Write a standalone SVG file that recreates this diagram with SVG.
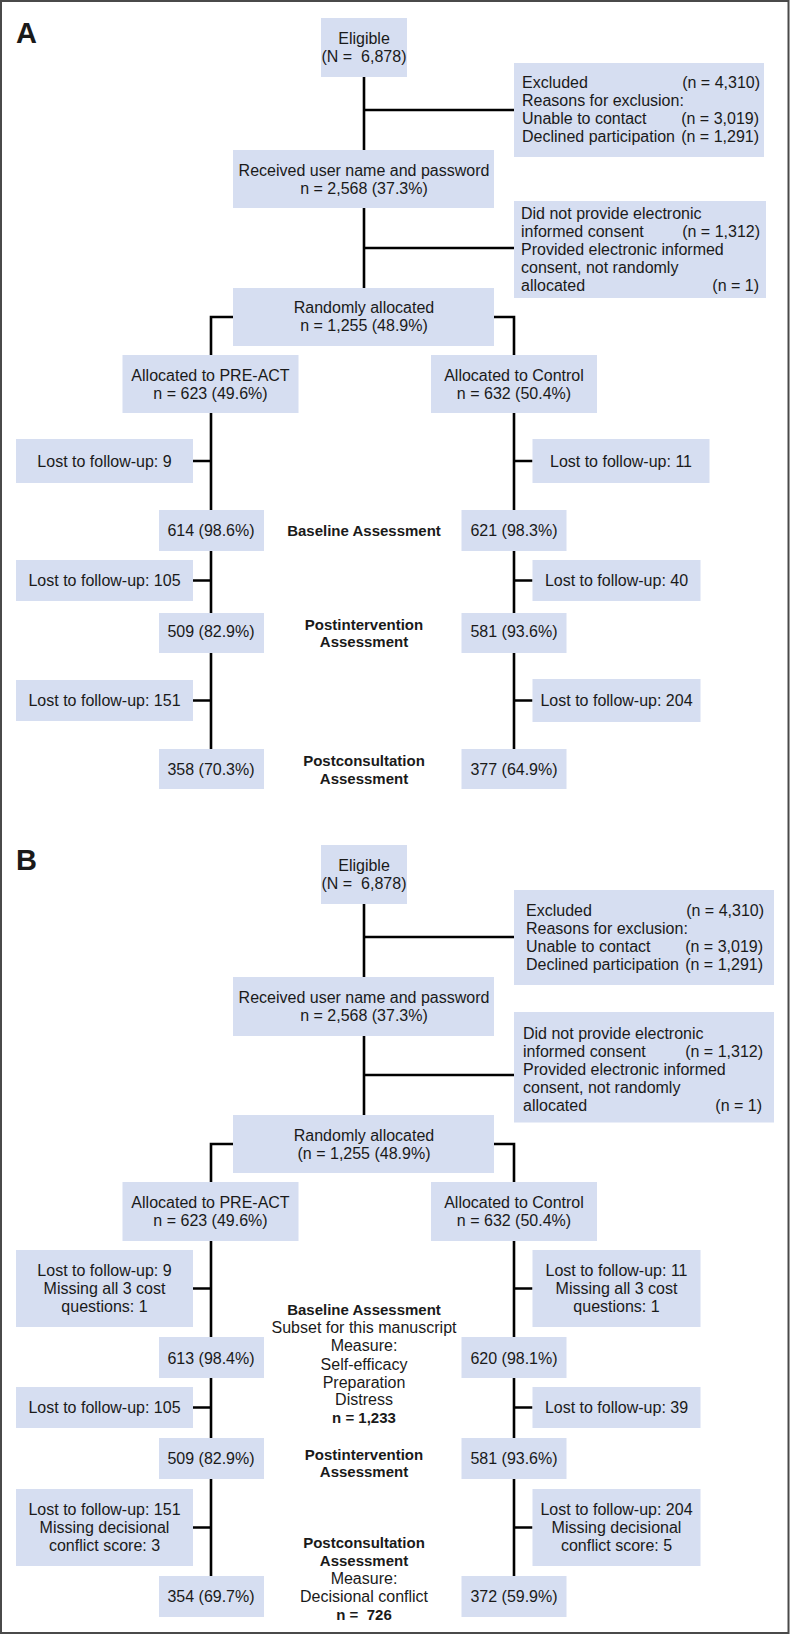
<svg xmlns="http://www.w3.org/2000/svg" width="790" height="1635" viewBox="0 0 790 1635">
<style>
.b{fill:#d6def1}
text{font-family:"Liberation Sans",Arial,sans-serif;font-size:16px;fill:#1a1a1a}
.c{text-anchor:middle}
.e{text-anchor:end}
.h{font-weight:bold;font-size:15px;text-anchor:middle}
.p{font-weight:bold;font-size:29px}
.ln{stroke:#000;stroke-width:2.6;fill:none}
</style>
<rect x="0" y="0" width="790" height="1635" fill="#fff"/>
<rect x="1" y="1" width="787.5" height="1632" fill="none" stroke="#4a4a4a" stroke-width="2"/>
<text class="p" x="16" y="43">A</text>
<text class="p" x="16" y="870">B</text>
<g id="connectors">
<path class="ln" d="M364,77V150M364,208V288M364,110H514M364,248H514M233,317H211V355M494,317H514V355"/>
<path class="ln" d="M211,413V510M211,551V613M211,653V749M514,413V510M514,551V613M514,653V749"/>
<path class="ln" d="M193,461H211M514,461H532.5M193,580.5H211M514,580.5H532.5M193,700.5H211M514,700.5H532.5"/>
<path class="ln" d="M364,904V977M364,1036V1115M364,937H514M364,1075H514M233,1144H211V1182M494,1144H514V1182"/>
<path class="ln" d="M211,1241V1337M211,1378V1438M211,1479V1576M514,1241V1337M514,1378V1438M514,1479V1576"/>
<path class="ln" d="M193,1288.5H211M514,1288.5H532.5M193,1407.5H211M514,1407.5H532.5M193,1527.5H211M514,1527.5H532.5"/>
</g>
<g id="a-eligible"><rect class="b" x="321" y="18" width="86" height="59"/><text class="c" x="364" y="44">Eligible</text><text class="c" x="364" y="62" xml:space="preserve">(N =  6,878)</text></g>
<g id="a-excluded"><rect class="b" x="514" y="63" width="250" height="94"/>
<text x="522" y="88">Excluded</text><text class="e" x="760" y="88">(n = 4,310)</text>
<text x="522" y="106">Reasons for exclusion:</text>
<text x="522" y="124">Unable to contact</text><text class="e" x="759" y="124">(n = 3,019)</text>
<text x="522" y="142">Declined participation</text><text class="e" x="759" y="142">(n = 1,291)</text></g>
<g id="a-received"><rect class="b" x="233" y="150" width="261" height="58"/><text class="c" x="364" y="175.5">Received user name and password</text><text class="c" x="364" y="194">n = 2,568 (37.3%)</text></g>
<g id="a-noconsent"><rect class="b" x="514" y="201" width="252" height="97"/>
<text x="521" y="219">Did not provide electronic</text>
<text x="521" y="237">informed consent</text><text class="e" x="760" y="237">(n = 1,312)</text>
<text x="521" y="255">Provided electronic informed</text>
<text x="521" y="273">consent, not randomly</text>
<text x="521" y="291">allocated</text><text class="e" x="759" y="291">(n = 1)</text></g>
<g id="a-random"><rect class="b" x="233" y="288" width="261" height="58"/><text class="c" x="364" y="313">Randomly allocated</text><text class="c" x="364" y="331">n = 1,255 (48.9%)</text></g>
<g id="a-preact"><rect class="b" x="122.5" y="355" width="176" height="58"/><text class="c" x="210.5" y="381">Allocated to PRE-ACT</text><text class="c" x="210.5" y="399">n = 623 (49.6%)</text></g>
<g id="a-control"><rect class="b" x="431" y="355" width="166" height="58"/><text class="c" x="514" y="381">Allocated to Control</text><text class="c" x="514" y="399">n = 632 (50.4%)</text></g>
<g id="a-lost9"><rect class="b" x="16" y="439" width="177" height="44"/><text class="c" x="104.5" y="467">Lost to follow-up: 9</text></g>
<g id="a-lost11"><rect class="b" x="532.5" y="439" width="177" height="44"/><text class="c" x="621" y="467">Lost to follow-up: 11</text></g>
<g id="a-614"><rect class="b" x="159" y="510" width="105" height="41"/><text class="c" x="211" y="536">614 (98.6%)</text></g>
<g id="a-621"><rect class="b" x="461.5" y="510" width="105" height="41"/><text class="c" x="514" y="536">621 (98.3%)</text></g>
<text class="h" x="364" y="535.5">Baseline Assessment</text>
<g id="a-lost105"><rect class="b" x="16" y="560" width="177" height="41"/><text class="c" x="104.5" y="586">Lost to follow-up: 105</text></g>
<g id="a-lost40"><rect class="b" x="532.5" y="560" width="168" height="41"/><text class="c" x="616.5" y="586">Lost to follow-up: 40</text></g>
<g id="a-509"><rect class="b" x="159" y="613" width="105" height="40"/><text class="c" x="211" y="636.5">509 (82.9%)</text></g>
<g id="a-581"><rect class="b" x="461.5" y="613" width="105" height="40"/><text class="c" x="514" y="636.5">581 (93.6%)</text></g>
<text class="h" x="364" y="629.5">Postintervention</text><text class="h" x="364" y="647">Assessment</text>
<g id="a-lost151"><rect class="b" x="16" y="680" width="177" height="41"/><text class="c" x="104.5" y="706">Lost to follow-up: 151</text></g>
<g id="a-lost204"><rect class="b" x="532.5" y="679" width="168" height="43"/><text class="c" x="616.5" y="706">Lost to follow-up: 204</text></g>
<g id="a-358"><rect class="b" x="159" y="749" width="105" height="40"/><text class="c" x="211" y="774.5">358 (70.3%)</text></g>
<g id="a-377"><rect class="b" x="461.5" y="749" width="105" height="40"/><text class="c" x="514" y="774.5">377 (64.9%)</text></g>
<text class="h" x="364" y="765.5">Postconsultation</text><text class="h" x="364" y="783.5">Assessment</text>

<g id="b-eligible"><rect class="b" x="321" y="845" width="86" height="59"/><text class="c" x="364" y="870.5">Eligible</text><text class="c" x="364" y="889" xml:space="preserve">(N =  6,878)</text></g>
<g id="b-excluded"><rect class="b" x="514" y="890" width="260" height="95"/>
<text x="526" y="915.5">Excluded</text><text class="e" x="764" y="915.5">(n = 4,310)</text>
<text x="526" y="933.5">Reasons for exclusion:</text>
<text x="526" y="951.5">Unable to contact</text><text class="e" x="763" y="951.5">(n = 3,019)</text>
<text x="526" y="969.5">Declined participation</text><text class="e" x="763" y="969.5">(n = 1,291)</text></g>
<g id="b-received"><rect class="b" x="233" y="977" width="261" height="59"/><text class="c" x="364" y="1003">Received user name and password</text><text class="c" x="364" y="1021">n = 2,568 (37.3%)</text></g>
<g id="b-noconsent"><rect class="b" x="514" y="1012" width="260" height="110.5"/>
<text x="523" y="1039">Did not provide electronic</text>
<text x="523" y="1056.5">informed consent</text><text class="e" x="763" y="1056.5">(n = 1,312)</text>
<text x="523" y="1074.5">Provided electronic informed</text>
<text x="523" y="1092.5">consent, not randomly</text>
<text x="523" y="1110.5">allocated</text><text class="e" x="762" y="1110.5">(n = 1)</text></g>
<g id="b-random"><rect class="b" x="233" y="1115" width="261" height="58"/><text class="c" x="364" y="1140.5">Randomly allocated</text><text class="c" x="364" y="1159">(n = 1,255 (48.9%)</text></g>
<g id="b-preact"><rect class="b" x="122.5" y="1182" width="176" height="59"/><text class="c" x="210.5" y="1208">Allocated to PRE-ACT</text><text class="c" x="210.5" y="1226">n = 623 (49.6%)</text></g>
<g id="b-control"><rect class="b" x="431" y="1182" width="166" height="59"/><text class="c" x="514" y="1208">Allocated to Control</text><text class="c" x="514" y="1226">n = 632 (50.4%)</text></g>
<g id="b-lost9"><rect class="b" x="16" y="1250" width="177" height="77"/><text class="c" x="104.5" y="1276">Lost to follow-up: 9</text><text class="c" x="104.5" y="1294">Missing all 3 cost</text><text class="c" x="104.5" y="1312">questions: 1</text></g>
<g id="b-lost11"><rect class="b" x="532.5" y="1250" width="168" height="77"/><text class="c" x="616.5" y="1276">Lost to follow-up: 11</text><text class="c" x="616.5" y="1294">Missing all 3 cost</text><text class="c" x="616.5" y="1312">questions: 1</text></g>
<g id="b-baseline-label">
<text class="h" x="364" y="1314.5">Baseline Assessment</text>
<text class="c" x="364" y="1333">Subset for this manuscript</text>
<text class="c" x="364" y="1351">Measure:</text>
<text class="c" x="364" y="1369.5">Self-efficacy</text>
<text class="c" x="364" y="1387.5">Preparation</text>
<text class="c" x="364" y="1405">Distress</text>
<text class="h" x="364" y="1422.5">n = 1,233</text></g>
<g id="b-613"><rect class="b" x="159" y="1337" width="105" height="41"/><text class="c" x="211" y="1363.5">613 (98.4%)</text></g>
<g id="b-620"><rect class="b" x="461.5" y="1337" width="105" height="41"/><text class="c" x="514" y="1363.5">620 (98.1%)</text></g>
<g id="b-lost105"><rect class="b" x="16" y="1387" width="177" height="41"/><text class="c" x="104.5" y="1413">Lost to follow-up: 105</text></g>
<g id="b-lost39"><rect class="b" x="532.5" y="1387" width="168" height="41"/><text class="c" x="616.5" y="1413">Lost to follow-up: 39</text></g>
<g id="b-509"><rect class="b" x="159" y="1438" width="105" height="41"/><text class="c" x="211" y="1464">509 (82.9%)</text></g>
<g id="b-581"><rect class="b" x="461.5" y="1438" width="105" height="41"/><text class="c" x="514" y="1464">581 (93.6%)</text></g>
<text class="h" x="364" y="1459.5">Postintervention</text><text class="h" x="364" y="1477">Assessment</text>
<g id="b-lost151"><rect class="b" x="16" y="1489" width="177" height="77"/><text class="c" x="104.5" y="1515">Lost to follow-up: 151</text><text class="c" x="104.5" y="1533">Missing decisional</text><text class="c" x="104.5" y="1551">conflict score: 3</text></g>
<g id="b-lost204"><rect class="b" x="532.5" y="1489" width="168" height="77"/><text class="c" x="616.5" y="1515">Lost to follow-up: 204</text><text class="c" x="616.5" y="1533">Missing decisional</text><text class="c" x="616.5" y="1551">conflict score: 5</text></g>
<g id="b-post-label">
<text class="h" x="364" y="1548">Postconsultation</text>
<text class="h" x="364" y="1566">Assessment</text>
<text class="c" x="364" y="1584">Measure:</text>
<text class="c" x="364" y="1602">Decisional conflict</text>
<text class="h" x="364" y="1620" xml:space="preserve">n =  726</text></g>
<g id="b-354"><rect class="b" x="159" y="1576" width="105" height="41"/><text class="c" x="211" y="1602">354 (69.7%)</text></g>
<g id="b-372"><rect class="b" x="461.5" y="1576" width="105" height="41"/><text class="c" x="514" y="1602">372 (59.9%)</text></g>
</svg>
